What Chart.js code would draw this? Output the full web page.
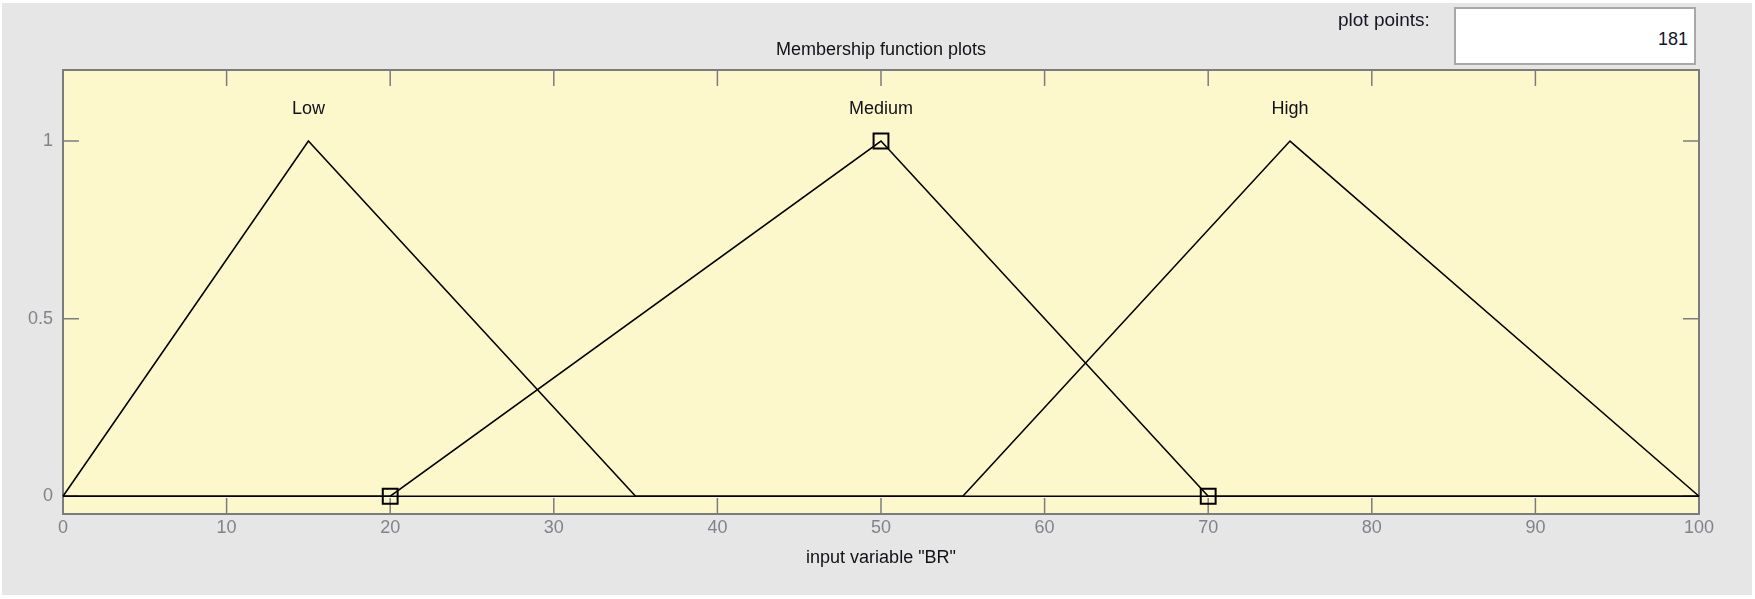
<!DOCTYPE html>
<html>
<head>
<meta charset="utf-8">
<title>Membership function plots</title>
<script src="https://cdn.jsdelivr.net/npm/chart.js@4.4.1/dist/chart.umd.min.js"></script>
<style>
    html, body { margin: 0; padding: 0; background: #ffffff; }
    body { width: 1755px; height: 599px; position: relative; overflow: hidden; font-family: "Liberation Sans", Arial, sans-serif; }
    .panel { position: absolute; left: 2px; top: 3px; right: 3px; bottom: 4px; background: #e6e6e6; }
    #chart-wrap { position: absolute; left: 0; top: 0; width: 1755px; height: 599px; }
    .pp-label { position: absolute; left: 1338px; top: 9px; font-size: 19px; color: #151525; }
    .pp-box { position: absolute; left: 1454px; top: 7px; width: 238px; height: 54px; background: #ffffff; border: 2px solid #a8a8a8;
              font-size: 18px; color: #151525; text-align: right; box-sizing: content-box; }
    .pp-box span { position: absolute; right: 6px; top: 20px; }
</style>
</head>
<body>
<div class="panel"></div>
<div id="chart-wrap"><canvas id="mf"></canvas></div>
<div class="pp-label">plot points:</div>
<div class="pp-box"><span>181</span></div>
<script>
const FONT = '"Liberation Sans", Arial, sans-serif';

// membership functions of input variable "BR" (trimf, evaluated over 0..100)
const mfNames = ['Low', 'Medium', 'High'];
const mfPeaks = [15, 50, 75];
const lowX = [0, 15, 35, 100];
const lowY = [0, 1, 0, 0];
const mediumX = [0, 20, 50, 70, 100];
const mediumY = [0, 0, 1, 0, 0];
const highX = [0, 55, 75, 100];
const highY = [0, 0, 1, 0];

// selected MF parameters (square handles)
const handleX = [20, 50, 70];
const handleY = [0, 1, 0];

const xTicks = [0, 10, 20, 30, 40, 50, 60, 70, 80, 90, 100];
const yTicks = [0, 0.5, 1];
const labelLevel = 1.1;

const toPoints = (xs, ys) => xs.map((x, i) => ({ x: x, y: ys[i] }));

const lineStyle = {
    borderColor: '#000000',
    borderWidth: 1.6,
    pointRadius: 0,
    tension: 0,
    fill: false,
    clip: 4
};

// yellow plot background, box and inward ticks (under the curves)
const plotFrame = {
    id: 'plotFrame',
    beforeDatasetsDraw(chart) {
        const { ctx, chartArea: a, scales } = chart;
        const tl = 16;
        ctx.save();
        ctx.fillStyle = '#fcf8cc';
        ctx.fillRect(a.left, a.top, a.right - a.left, a.bottom - a.top);
        ctx.strokeStyle = '#7c7c7c';
        ctx.lineWidth = 1.5;
        ctx.beginPath();
        xTicks.forEach(v => {
            const px = scales.x.getPixelForValue(v);
            ctx.moveTo(px, a.bottom); ctx.lineTo(px, a.bottom - tl);
            ctx.moveTo(px, a.top); ctx.lineTo(px, a.top + tl);
        });
        yTicks.forEach(v => {
            const py = scales.y.getPixelForValue(v);
            ctx.moveTo(a.left, py); ctx.lineTo(a.left + tl, py);
            ctx.moveTo(a.right, py); ctx.lineTo(a.right - tl, py);
        });
        ctx.stroke();
        ctx.lineWidth = 2;
        ctx.strokeRect(a.left, a.top, a.right - a.left, a.bottom - a.top);
        ctx.restore();
    }
};

// MF names and title
const plotText = {
    id: 'plotText',
    afterDraw(chart) {
        const { ctx, chartArea: a, scales } = chart;
        ctx.save();
        ctx.fillStyle = '#111118';
        ctx.textAlign = 'center';
        ctx.textBaseline = 'middle';
        ctx.font = '18px ' + FONT;
        mfNames.forEach((name, i) => {
            ctx.fillText(name, scales.x.getPixelForValue(mfPeaks[i]), scales.y.getPixelForValue(labelLevel) + 4);
        });
        ctx.fillText('Membership function plots', (a.left + a.right) / 2, 50);
        ctx.restore();
    }
};

new Chart(document.getElementById('mf').getContext('2d'), {
    type: 'line',
    plugins: [plotFrame, plotText],
    data: {
        datasets: [
            { label: 'Low', data: toPoints(lowX, lowY), ...lineStyle },
            { label: 'Medium', data: toPoints(mediumX, mediumY), ...lineStyle },
            { label: 'High', data: toPoints(highX, highY), ...lineStyle },
            {
                label: 'params',
                data: toPoints(handleX, handleY),
                showLine: false,
                pointStyle: 'rect',
                pointRadius: 10.5,
                pointBorderWidth: 2,
                pointBorderColor: '#000000',
                pointBackgroundColor: 'rgba(0,0,0,0)',
                clip: false
            }
        ]
    },
    options: {
        responsive: true,
        maintainAspectRatio: false,
        animation: false,
        layout: { padding: { top: 70, right: 56, left: 0, bottom: 0 } },
        plugins: {
            legend: { display: false },
            tooltip: { enabled: false }
        },
        scales: {
            x: {
                type: 'linear',
                min: 0,
                max: 100,
                afterBuildTicks: (scale) => { scale.ticks = xTicks.map(v => ({ value: v })); },
                afterFit: (scale) => { scale.height = 85; },
                grid: { display: false, drawTicks: false },
                border: { display: false },
                ticks: {
                    color: '#80838c',
                    font: { family: FONT, size: 18 },
                    padding: 3,
                    maxRotation: 0,
                    autoSkip: false
                },
                title: {
                    display: true,
                    text: 'input variable "BR"',
                    color: '#111118',
                    font: { family: FONT, size: 18 },
                    padding: { top: 0, bottom: 30 }
                }
            },
            y: {
                min: -0.05,
                max: 1.2,
                afterBuildTicks: (scale) => { scale.ticks = yTicks.map(v => ({ value: v })); },
                afterFit: (scale) => { scale.width = 63; },
                grid: { display: false, drawTicks: false },
                border: { display: false },
                ticks: {
                    color: '#80838c',
                    font: { family: FONT, size: 18 },
                    padding: 10,
                    callback: (v) => String(v)
                }
            }
        }
    }
});
</script>
</body>
</html>
